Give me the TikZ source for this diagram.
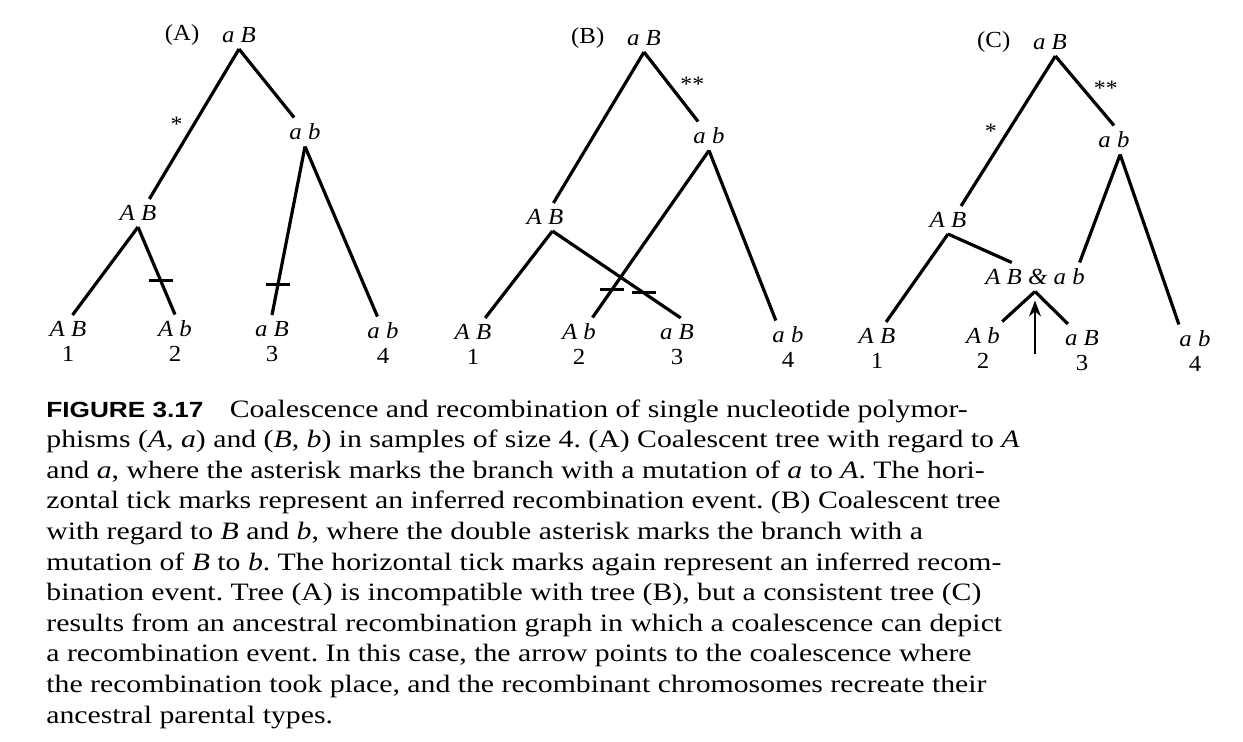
\documentclass[tikz,border=0pt]{standalone}
\usepackage{fontspec}
\setmainfont{Liberation Serif}[FakeStretch=1.08]
\setsansfont{Liberation Sans}[FakeStretch=1.19]
\newfontfamily\capfont{Liberation Serif}[FakeStretch=1.19]
\usetikzlibrary{arrows.meta, positioning}

\begin{document}
\begin{tikzpicture}[
  x=0.5pt, y=-0.5pt,
  allele/.style = {inner sep=3pt, font=\fontsize{11.5}{13}\selectfont\itshape},
  sample/.style = {inner sep=0pt, font=\fontsize{11.5}{13}\selectfont},
  panel/.style = {inner sep=3pt, font=\fontsize{11.5}{13}\selectfont},
  branch/.style = {line width=1.6pt},
  tickmark/.style = {line width=1.6pt},
  star/.style = {inner sep=1pt, font=\fontsize{11}{12}\selectfont},
  arrow/.style = {line width=1pt, -{Stealth[length=8pt, width=6pt]}},
  caption/.style = {inner sep=0pt, align=left, font=\capfont\fontsize{12.5}{15.3}\selectfont\frenchspacing}
]
\useasboundingbox (0,0) rectangle (1243,741);

% Tree (A)
\node[allele] (Ar) at (239,35) {a B};
\node[panel, left=5pt of Ar] (Alab) {(A)};
\node[allele] (Aab) at (305,132) {a b};
\node[allele] (AAB) at (138,213) {A B};
\node[allele] (A1) at (68,329) {A B};
\node[allele] (A2) at (175,329) {A b};
\node[allele] (A3) at (272,329) {a B};
\node[allele] (A4) at (383,331) {a b};
\foreach \i in {1,...,4}
  \node[sample, below=1.2pt of A\i] (An\i) {\i};

\draw[branch] (Ar.south) -- node[star, pos=.5, left=4pt] (Astar) {*} (AAB.51);
\draw[branch] (Ar.south) -- (Aab.127);
\draw[branch] (AAB.south) -- (A1.72);
\draw[branch] (AAB.south) -- (A2.north) coordinate[pos=.61] (Atick2);
\draw[branch] (Aab.south) -- (A3.north) coordinate[pos=.82] (Atick3);
\draw[branch] (Aab.south) -- (A4.111);
\draw[tickmark] ([xshift=-6pt]Atick2) -- ([xshift=6pt]Atick2);
\draw[tickmark] ([xshift=-6pt]Atick3) -- ([xshift=6pt]Atick3);

% Tree (B)
\node[allele] (Br) at (644,38) {a B};
\node[panel, left=5pt of Br] (Blab) {(B)};
\node[allele] (Bab) at (709,136) {a b};
\node[allele] (BAB) at (545,217) {A B};
\node[allele] (B1) at (473,332) {A B};
\node[allele] (B2) at (579,332) {A b};
\node[allele] (B3) at (677,332) {a B};
\node[allele] (B4) at (788,335) {a b};
\foreach \i in {1,...,4}
  \node[sample, below=1.2pt of B\i] (Bn\i) {\i};

\draw[branch] (Br.south) -- (BAB.59);
\draw[branch] (Br.south) -- node[star, pos=.46, right=4pt] (Bstar) {**} (Bab.127);
\draw[branch] (BAB.-62) -- (B1.49);
\draw[branch] (BAB.-62) -- (B3.75) coordinate[pos=.71] (Btick3);
\draw[branch] (Bab.south) -- (B2.47) coordinate[pos=.83] (Btick2);
\draw[branch] (Bab.south) -- (B4.130);
\draw[tickmark] ([xshift=-6pt]Btick2) -- ([xshift=6pt]Btick2);
\draw[tickmark] ([xshift=-6pt]Btick3) -- ([xshift=6pt]Btick3);

% Tree (C)
\node[allele] (Cr) at (1050,42) {a B};
\node[panel, left=5pt of Cr] (Clab) {(C)};
\node[allele] (Cab) at (1114,140) {a b};
\node[allele] (CAB) at (948,220) {A B};
\node[allele] (Crec) at (1035,277) {A B \& a b};
\node[allele] (C1) at (877,336) {A B};
\node[allele] (C2) at (983,336) {A b};
\node[allele] (C3) at (1082,338) {a B};
\node[allele] (C4) at (1195,339) {a b};
\foreach \i in {1,...,4}
  \node[sample, below=1.2pt of C\i] (Cn\i) {\i};

\draw[branch] (Cr.-69) -- node[star, pos=.5, left=4pt] (Cstar) {*} (CAB.47);
\draw[branch] (Cr.-69) -- node[star, pos=.46, right=4pt] (Cstars) {**} (Cab.north);
\draw[branch] (CAB.south) -- (C1.57);
\draw[branch] (CAB.south) -- (Crec.148);
\draw[branch] (Cab.-67) -- (Crec.18);
\draw[branch] (Cab.-67) -- (C4.138);
\draw[branch] (Crec.south) -- (C2.37);
\draw[branch] (Crec.south) -- (C3.135);

% recombination arrow
\coordinate (Cfoot) at (1035,354);
\draw[arrow, shorten >=4.5pt] (Cfoot) -- (Crec.south);

% Caption
\node[caption, anchor=north west] (cap) at (46,399) {%
{\sffamily\bfseries\fontsize{11}{15.3}\selectfont FIGURE 3.17}\hspace{1.05em}Coalescence and recombination of single nucleotide polymor-\\
phisms (\textit{A}, \textit{a}) and (\textit{B}, \textit{b}) in samples of size 4. (A) Coalescent tree with regard to \textit{A}\\
and \textit{a}, where the asterisk marks the branch with a mutation of \textit{a} to \textit{A}. The hori-\\
zontal tick marks represent an inferred recombination event. (B) Coalescent tree\\
with regard to \textit{B} and \textit{b}, where the double asterisk marks the branch with a\\
mutation of \textit{B} to \textit{b}. The horizontal tick marks again represent an inferred recom-\\
bination event. Tree (A) is incompatible with tree (B), but a consistent tree (C)\\
results from an ancestral recombination graph in which a coalescence can depict\\
a recombination event. In this case, the arrow points to the coalescence where\\
the recombination took place, and the recombinant chromosomes recreate their\\
ancestral parental types.};

\end{tikzpicture}
\end{document}
